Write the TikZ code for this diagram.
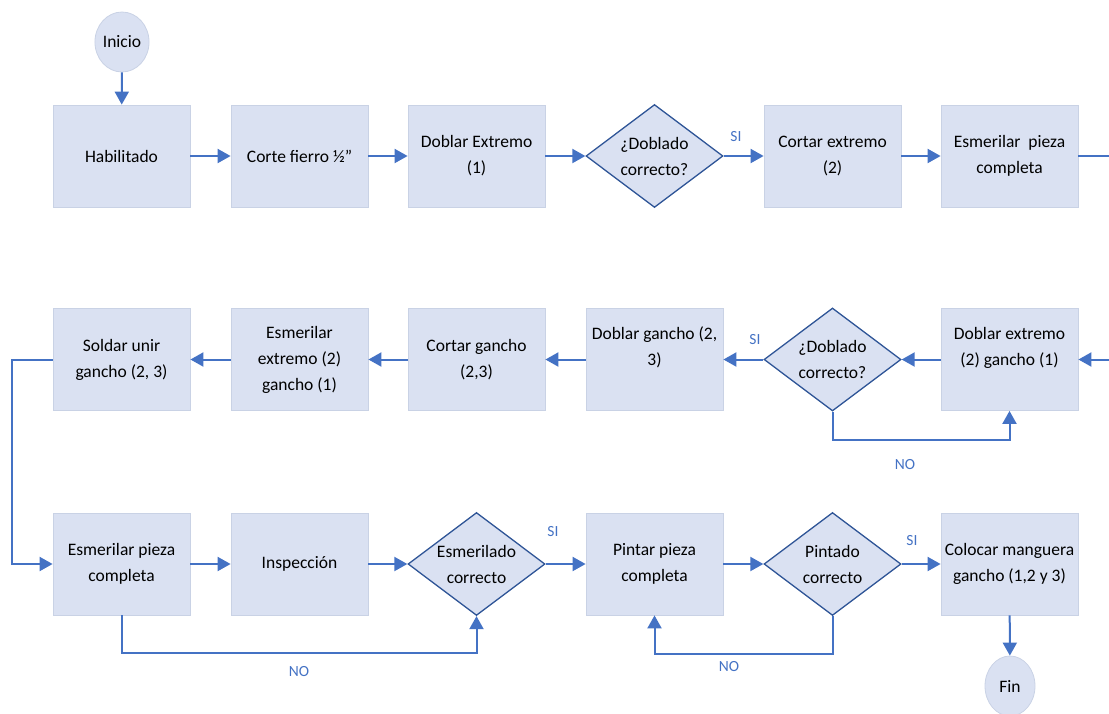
\documentclass[tikz,border=0pt]{standalone}
\usepackage{fontspec}
\setmainfont{Carlito}
\usetikzlibrary{shapes.geometric,arrows.meta}
\definecolor{boxfill}{HTML}{DAE1F2}
\definecolor{boxline}{HTML}{C9D2E5}
\definecolor{arr}{HTML}{4472C4}
\definecolor{dline}{HTML}{2F5597}
\tikzset{
  proc/.style={rectangle, fill=boxfill, draw=boxline, line width=0.8pt,
    minimum width=137pt, minimum height=102pt, align=center,
    font=\fontsize{17.5}{26}\selectfont, inner sep=0pt},
  dec/.style={diamond, fill=boxfill, draw=dline, line width=1.3pt,
    minimum width=137pt, minimum height=103pt, inner sep=0pt},
  dectext/.style={align=center, font=\fontsize{17.5}{26}\selectfont, inner sep=0pt},
  term/.style={ellipse, fill=boxfill, draw=boxline, line width=0.8pt,
    minimum width=50pt, minimum height=60pt, inner sep=0pt,
    font=\fontsize{17.5}{20}\selectfont},
  flow/.style={draw=arr, line width=2pt, -{Triangle[length=13pt,width=14pt]}},
  plain/.style={draw=arr, line width=2pt},
  lbl/.style={text=arr, font=\fontsize{15.5}{17}\selectfont, inner sep=0pt}
}
\begin{document}
\begin{tikzpicture}[x=1pt,y=-1pt]
\useasboundingbox (0,0) rectangle (1109,713);
% terminals
\node[term] (ini) at (122,42) {Inicio};
\node[term] (fin) at (1010,686) {Fin};
% row 1
\node[proc] (hab) at (121.5,156) {Habilitado};
\node[proc] (cor) at (299.5,156) {Corte fierro ½”};
\node[proc] (dob1) at (476.5,156) {Doblar Extremo\\(1)};
\node[dec] (d1) at (654.5,156) {};
\node[dectext] (d1t) at (d1) {¿Doblado\\correcto?};
\node[proc] (cext) at (832.5,156) {Cortar extremo\\(2)};
\node[proc] (esm1) at (1009.5,156) {Esmerilar\ \ pieza\\completa};
\coordinate (r1out) at (1109,156);
% row 2
\coordinate (r2in) at (1109,359.5);
\node[proc] (dext) at (1009.5,359.5) {Doblar extremo\\(2) gancho (1)\\~};
\node[dec] (d2) at (832.5,359.5) {};
\node[dectext] (d2t) at (d2) {¿Doblado\\correcto?};
\node[proc] (dgan) at (654.5,359.5) {Doblar gancho (2,\\3)\\~};
\node[proc] (cgan) at (476.5,359.5) {Cortar gancho\\(2,3)};
\node[proc] (eext) at (299.5,359.5) {Esmerilar\\extremo (2)\\gancho (1)};
\node[proc] (sold) at (121.5,359.5) {Soldar unir\\gancho (2, 3)};
% row 3
\node[proc] (esm3) at (121.5,564) {Esmerilar pieza\\completa};
\node[proc] (insp) at (299.5,564) {Inspección};
\node[dec] (d3) at (476.5,564) {};
\node[dectext] (d3t) at (d3) {Esmerilado\\correcto};
\node[proc] (pint) at (654.5,564) {Pintar pieza\\completa};
\node[dec] (d4) at (832.5,564) {};
\node[dectext] (d4t) at (d4) {Pintado\\correcto};
\node[proc] (colo) at (1009.5,564) {Colocar manguera\\gancho (1,2 y 3)};
% connectors row 1
\draw[flow] (ini) -- (hab);
\draw[flow] (hab) -- (cor);
\draw[flow] (cor) -- (dob1);
\draw[flow] (dob1) -- (d1);
\draw[flow] (d1) -- (cext);
\draw[flow] (cext) -- (esm1);
\draw[plain] (esm1) -- (r1out);
\node[lbl] (si1) at (736,137) {SI};
% connectors row 2
\draw[flow] (r2in) -- (dext);
\draw[flow] (dext) -- (d2);
\draw[flow] (d2) -- (dgan);
\draw[flow] (dgan) -- (cgan);
\draw[flow] (cgan) -- (eext);
\draw[flow] (eext) -- (sold);
\draw[flow] (d2.south) -- ++(0,28) -| (dext.south);
\node[lbl] (si2) at (755,340) {SI};
\node[lbl] (no2) at (905,465) {NO};
\draw[flow] (sold.west) -- ++(-41,0) |- (esm3.west);
% connectors row 3
\draw[flow] (esm3) -- (insp);
\draw[flow] (insp) -- (d3);
\draw[flow] (d3) -- (pint);
\draw[flow] (pint) -- (d4);
\draw[flow] (d4) -- (colo);
\draw[flow] (esm3.south) -- ++(0,38) -| (d3.south);
\draw[flow] (d4.south) -- ++(0,38) -| (pint.south);
\draw[flow] (colo) -- (fin);
\node[lbl] (si3) at (553,532) {SI};
\node[lbl] (si4) at (912,541) {SI};
\node[lbl] (no3) at (299,672) {NO};
\node[lbl] (no4) at (729,667) {NO};
\end{tikzpicture}
\end{document}
